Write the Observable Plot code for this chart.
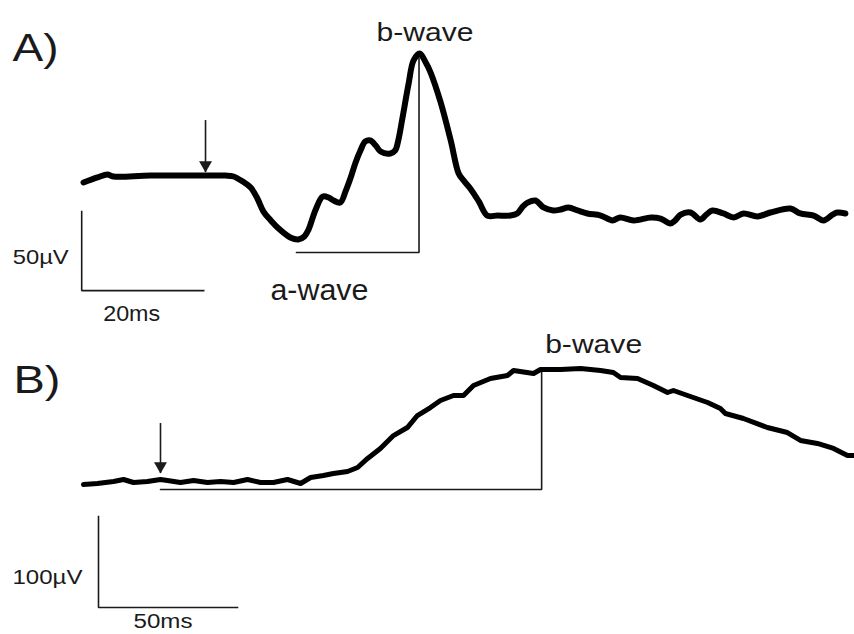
<!DOCTYPE html>
<html><head><meta charset="utf-8">
<script src="https://cdn.jsdelivr.net/npm/d3@7"></script>
<script src="https://cdn.jsdelivr.net/npm/@observablehq/plot@0.6"></script>
<style>
html,body{margin:0;padding:0;background:#fff;overflow:hidden;}
#fig{position:relative;width:854px;height:634px;}
#fig svg{position:absolute;left:0;overflow:visible;}
</style></head><body><div id="fig"></div>
<script>
// ---------- Panel A : time (ms from stimulus) and voltage (µV) ----------
const timeA = [-20.0,-17.7,-16.1,-15.1,-9.0,1.3,3.3,4.6,6.1,7.4,8.5,9.5,10.7,11.8,13.9,15.2,16.2,16.9,18.0,19.2,20.2,21.0,22.1,23.0,23.8,24.6,25.4,26.2,27.0,27.9,28.7,30.3,31.1,31.6,32.3,33.3,34.1,35.1,36.1,36.9,38.5,40.2,41.5,42.3,43.4,44.8,46.2,47.9,50.0,51.1,52.0,52.8,54.1,55.4,57.0,58.2,59.5,61.0,62.6,64.8,66.7,68.0,70.2,73.0,74.6,76.2,77.0,77.9,79.5,81.1,82.1,83.1,84.9,86.6,88.2,90.5,92.6,95.9,97.5,99.7,101.3,102.8,103.6,104.9];
const voltA = [-3.8,-0.6,1.3,0,0.6,0.6,0.6,0,-3.2,-7.0,-13.9,-22.2,-27.8,-32.3,-38.6,-39.9,-38.0,-33.5,-21.5,-12.7,-13.3,-15.2,-16.5,-8.9,-0.6,8.9,16.5,22.2,22.8,19.6,15.8,14.6,16.5,22.8,37.3,58.9,73.4,77.8,72.2,65.8,47.5,22.8,1.9,-2.5,-7.6,-15.8,-24.7,-24.7,-24.7,-23.4,-19.0,-16.5,-15.2,-19.6,-21.5,-20.9,-19.6,-21.5,-23.4,-24.7,-27.8,-25.9,-27.8,-25.9,-26.6,-29.7,-27.8,-24.1,-22.8,-27.2,-24.1,-21.5,-23.4,-25.9,-23.4,-25.3,-22.8,-20.3,-23.4,-24.7,-27.8,-24.1,-22.8,-23.4];
const stimulusA = [{t: 0, vFrom: 35.4, vTo: 2.5}];
const bracketA = [[14.9, -48.1], [35.0, -48.1], [35.0, 75.0]];     // a-wave level to b-wave peak
const scaleBarA = {t: -20.3, v: -72.2, dt: 20, dv: 50, tLabel: "20ms", vLabel: "50µV"};
const labelsA = {panel: "A)", a: "a-wave", b: "b-wave"};

// ---------- Panel B ----------
const timeB = [-27.7,-22.7,-16.9,-13.3,-9.7,-4.7,0,2.5,7.2,11.9,16.9,21.6,26.3,31.3,36.0,40.6,45.7,50.4,54.0,58.6,62.2,67.3,70.9,74.5,79.1,83.8,88.8,92.4,97.1,100.7,105.4,109.0,112.6,118.7,124.8,127.0,134.2,136.7,143.9,151.1,158.3,162.9,165.5,171.6,177.3,182.4,184.5,189.6,196.8,201.4,203.2,209.7,218.3,225.5,230.2,236.3,242.1,247.1,249.3];
const voltB = [-3.3,-2.2,0,2.2,-1.1,0,2.2,1.1,-1.1,1.1,-1.1,0,-1.1,2.2,-1.1,-1.1,2.2,-2.2,4.4,6.6,8.8,11.0,15.4,25.3,36.3,50.5,59.3,72.5,81.3,89.0,94.5,94.5,105.5,113.2,116.5,122.0,118.7,123.1,123.1,124.2,122.0,119.8,114.3,113.2,105.5,97.8,100.0,94.5,86.8,80.2,74.7,69.2,59.3,53.8,45.1,41.8,36.3,28.6,28.6];
const stimulusB = [{t: 0, vFrom: 63.7, vTo: 8.8}];
const bracketB = [[0, -8.8], [137.1, -8.8], [137.1, 124.0]];
const scaleBarB = {t: -22.3, v: -138.5, dt: 50, dv: 100, tLabel: "50ms", vLabel: "100µV"};
const labelsB = {panel: "B)", b: "b-wave"};

// ---------- styling ----------
const FONT = "'Liberation Sans', Arial, sans-serif";
const INK = "#1a1a1a";
const textWidths = {"A)": 46, "B)": 47, "b-wave": 97, "a-wave": 98, "50µV": 56, "20ms": 57, "100µV": 70, "50ms": 59};

function panel({time, volt, stimulus, bracket, sb, labels, xDomain, yDomain, height, traceWidth, lab}) {
  const trace = time.map((t, i) => ({t, v: volt[i]}));
  const sbPath = [[sb.t, sb.v + sb.dv], [sb.t, sb.v], [sb.t + sb.dt, sb.v]];
  const marks = [
    Plot.line(sbPath, {x: d => d[0], y: d => d[1], stroke: INK, strokeWidth: 1.6, strokeLinejoin: "miter", strokeLinecap: "square"}),
    Plot.line(bracket, {x: d => d[0], y: d => d[1], stroke: INK, strokeWidth: 1.6, strokeLinejoin: "miter"}),
    Plot.line(trace, {x: "t", y: "v", stroke: "#000", strokeWidth: traceWidth, curve: lab.curve, strokeLinejoin: "round", strokeLinecap: "round"}),
    Plot.ruleX(stimulus, {x: "t", y1: "vFrom", y2: "vTo", stroke: INK, strokeWidth: 1.6}),
    Plot.dot(stimulus, {x: "t", y: "vTo", symbol: "triangle", rotate: 180, r: 4.8, fill: INK, stroke: "none", dy: -7.5}),
    Plot.text([labels.panel], {frameAnchor: "top-left", text: d => d, dx: lab.panelDx, dy: lab.panelDy, lineAnchor: "top", textAnchor: "start", fontSize: 39, fill: INK}),
    Plot.text([sb], {x: "t", y: d => d.v + d.dv / 2, text: "vLabel", textAnchor: "end", lineAnchor: "bottom", dx: lab.vDx, dy: lab.vDy, fontSize: 21, fill: INK}),
    Plot.text([sb], {x: d => d.t + d.dt / 2, y: "v", text: "tLabel", textAnchor: "middle", lineAnchor: "bottom", dx: lab.tDx, dy: lab.tDy, fontSize: lab.tSize, fill: INK}),
    Plot.text([bracket[2]], {x: d => d[0], y: d => d[1], text: () => labels.b, textAnchor: "middle", lineAnchor: "bottom", dx: lab.bDx, dy: lab.bDy, fontSize: 26, fill: INK})
  ];
  if (labels.a) {
    marks.push(Plot.text([bracket[0]], {x: d => d[0], y: d => d[1], text: () => labels.a, textAnchor: "middle", lineAnchor: "bottom", dx: 23, dy: 48, fontSize: 30, fill: INK}));
  }
  return Plot.plot({
    width: 854, height, margin: 0,
    x: {domain: xDomain, axis: null},
    y: {domain: yDomain, axis: null},
    style: {fontFamily: FONT, background: "transparent", overflow: "visible"},
    marks
  });
}

const fig = document.getElementById("fig");
const svgA = panel({time: timeA, volt: voltA, stimulus: stimulusA, bracket: bracketA, sb: scaleBarA, labels: labelsA,
  xDomain: [-33.61, 106.39], yDomain: [-91.14, 111.39], height: 320, traceWidth: 6,
  lab: {curve: "catmull-rom", panelDx: 12, panelDy: 33, vDx: -13, vDy: 12.5, tDx: -11, tDy: 30, tSize: 22, bDx: 6, bDy: -17}});
const svgB = panel({time: timeB, volt: voltB, stimulus: stimulusB, bracket: bracketB, sb: scaleBarB, labels: labelsB,
  xDomain: [-57.55, 249.64], yDomain: [-168.1, 176.9], height: 314, traceWidth: 5,
  lab: {curve: "linear", panelDx: 13, panelDy: 45, vDx: -16, vDy: 21.5, tDx: -5, tDy: 20, tSize: 20, bDx: 52, bDy: -16}});
svgA.style.top = "0px";
svgB.style.top = "320px";
fig.append(svgA, svgB);

// horizontal stretch of the lettering, as in the reference
fig.querySelectorAll("text").forEach(t => {
  const w = textWidths[t.textContent];
  if (w) { t.setAttribute("textLength", w); t.setAttribute("lengthAdjust", "spacingAndGlyphs"); }
});
</script></body></html>
